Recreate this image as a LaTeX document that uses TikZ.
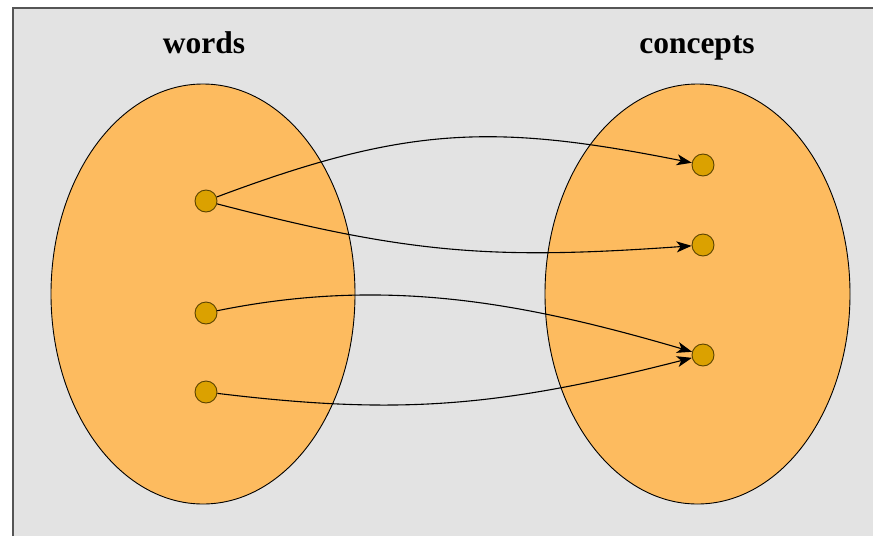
\documentclass[tikz,border=0pt]{standalone}
\usepackage{fontspec}
\setmainfont{Liberation Serif}
\usetikzlibrary{arrows.meta}
\definecolor{bggray}{HTML}{E3E3E3}
\definecolor{framegray}{HTML}{555555}
\definecolor{setfill}{HTML}{FDBB5F}
\definecolor{dotfill}{HTML}{DBA100}
\definecolor{dotline}{HTML}{5A4200}
\tikzset{
  setshape/.style={draw=black, line width=0.9pt, fill=setfill},
  elem/.style={circle, draw=dotline, line width=0.9pt, fill=dotfill, minimum size=22pt, inner sep=0pt},
  maparrow/.style={draw=black, line width=1.1pt, -{Stealth[length=15pt,width=11pt,inset=4pt]}},
  title/.style={font=\fontsize{31.5}{36}\selectfont\bfseries, anchor=base, inner sep=0pt}
}
\begin{document}
\begin{tikzpicture}[x=1pt,y=-1pt]
\useasboundingbox (0,0) rectangle (873,536);
\fill[white] (0,0) rectangle (873,536);
\fill[bggray] (13,8) rectangle (873,536);
\draw[framegray, line width=1.5pt] (13,536) -- (13,8) -- (873,8);
% sets
\draw[setshape] (203,294) ellipse [x radius=152, y radius=210];
\draw[setshape] (697.5,294) ellipse [x radius=152.5, y radius=210];
% titles
\node[title] (tw) at (204,53) {words};
\node[title] (tc) at (697,53) {concepts};
% elements
\node[elem] (w1) at (206,201) {};
\node[elem] (w2) at (206,313) {};
\node[elem] (w3) at (206,392) {};
\node[elem] (c1) at (703,165) {};
\node[elem] (c2) at (703,245) {};
\node[elem] (c3) at (703,355) {};
% mappings
\draw[maparrow] (w1) .. controls +(200,-75) and +(-210,-42) .. (c1);
\draw[maparrow] (w1) .. controls +(204,53) and +(-211,15) .. (c2);
\draw[maparrow] (w2) .. controls +(177,-36) and +(-184,-54) .. (c3);
\draw[maparrow] (w3) .. controls +(190,23) and +(-207,53) .. (c3);
\end{tikzpicture}
\end{document}
